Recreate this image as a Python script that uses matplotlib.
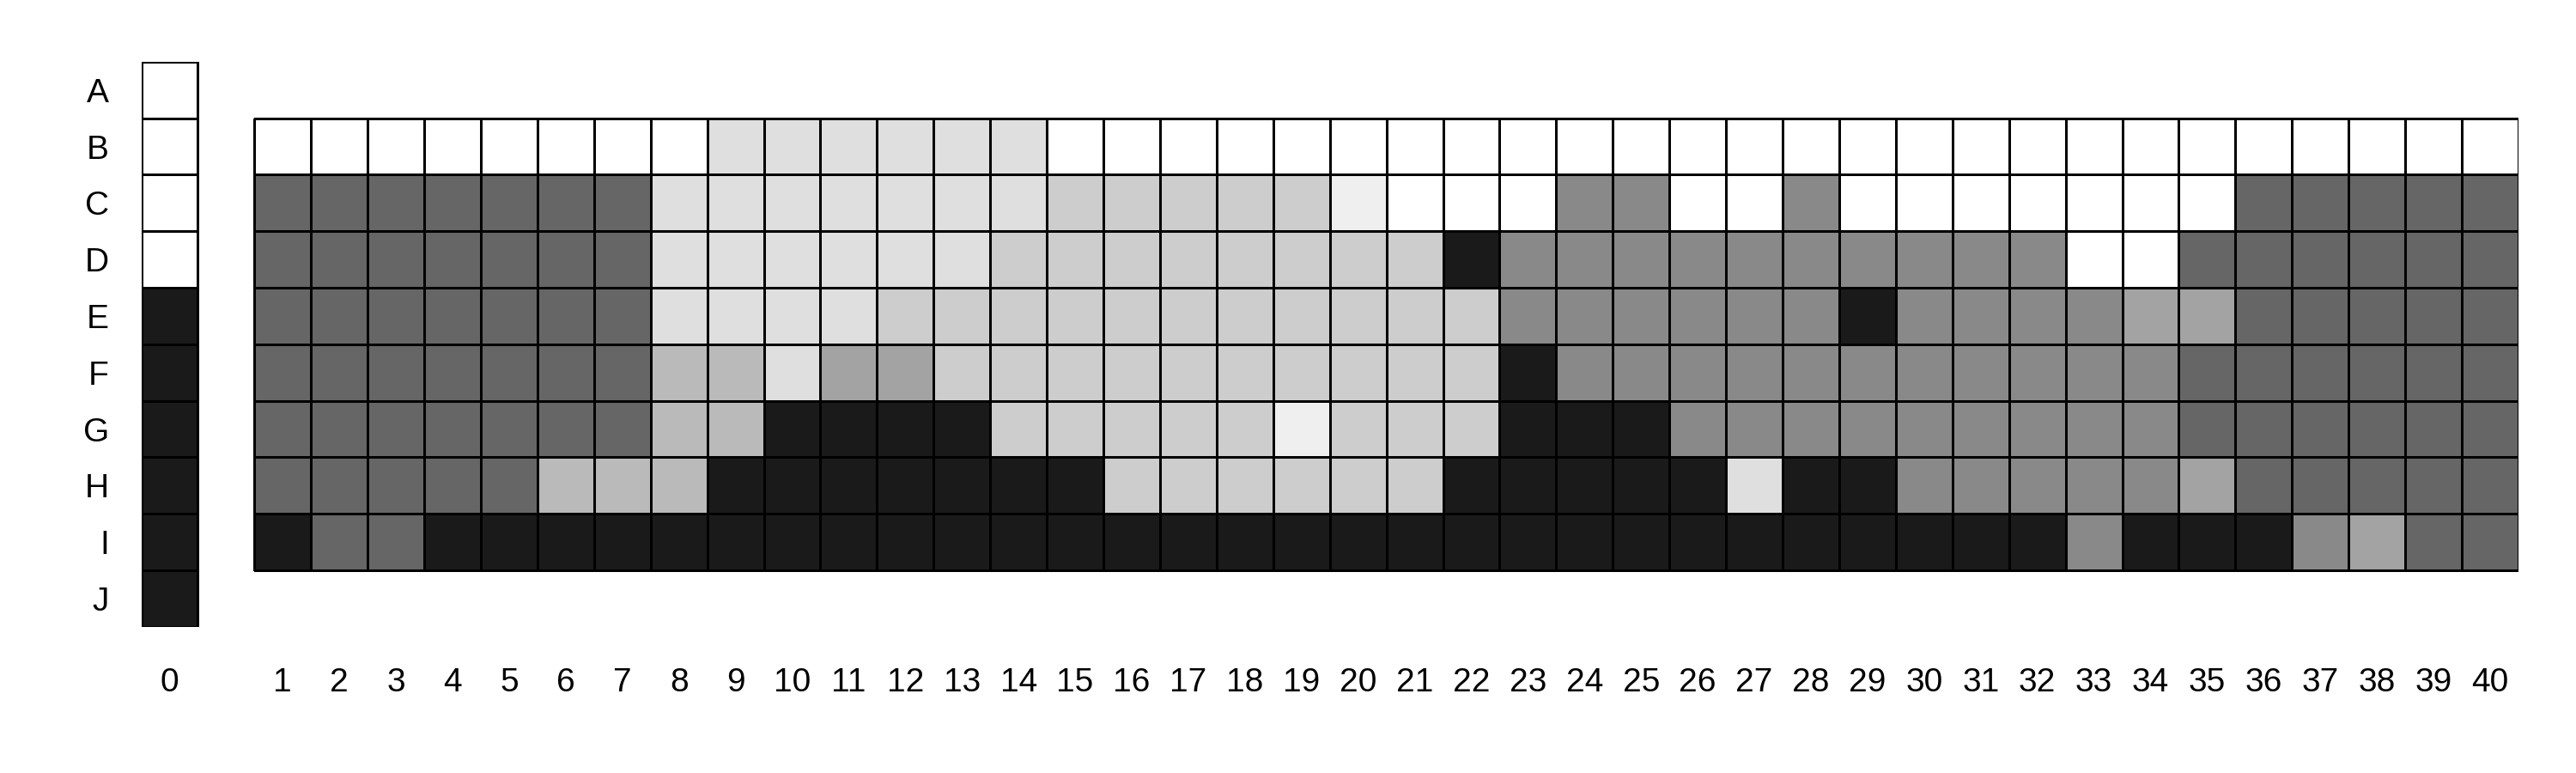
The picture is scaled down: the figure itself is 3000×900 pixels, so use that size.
import numpy as np
import matplotlib
matplotlib.use("Agg")
import matplotlib.pyplot as plt
from matplotlib.colors import ListedColormap, BoundaryNorm

plt.rcParams['font.family'] = ['Liberation Sans', 'DejaVu Sans']

# grey levels used by the cells (code -> colour)
shades = ['#ffffff', '#efefef', '#dfdfdf', '#cdcdcd', '#bababa',
          '#a3a3a3', '#898989', '#666666', '#1a1a1a']

row_labels = ['A', 'B', 'C', 'D', 'E', 'F', 'G', 'H', 'I', 'J']
col_labels = [str(i) for i in range(41)]

# column 0, rows A..J
col0 = [0, 0, 0, 0, 8, 8, 8, 8, 8, 8]

# columns 1..40, rows B..I
row_B = [0, 0, 0, 0, 0, 0, 0, 0, 2, 2, 2, 2, 2, 2, 0, 0, 0, 0, 0, 0,
         0, 0, 0, 0, 0, 0, 0, 0, 0, 0, 0, 0, 0, 0, 0, 0, 0, 0, 0, 0]
row_C = [7, 7, 7, 7, 7, 7, 7, 2, 2, 2, 2, 2, 2, 2, 3, 3, 3, 3, 3, 1,
         0, 0, 0, 6, 6, 0, 0, 6, 0, 0, 0, 0, 0, 0, 0, 7, 7, 7, 7, 7]
row_D = [7, 7, 7, 7, 7, 7, 7, 2, 2, 2, 2, 2, 2, 3, 3, 3, 3, 3, 3, 3,
         3, 8, 6, 6, 6, 6, 6, 6, 6, 6, 6, 6, 0, 0, 7, 7, 7, 7, 7, 7]
row_E = [7, 7, 7, 7, 7, 7, 7, 2, 2, 2, 2, 3, 3, 3, 3, 3, 3, 3, 3, 3,
         3, 3, 6, 6, 6, 6, 6, 6, 8, 6, 6, 6, 6, 5, 5, 7, 7, 7, 7, 7]
row_F = [7, 7, 7, 7, 7, 7, 7, 4, 4, 2, 5, 5, 3, 3, 3, 3, 3, 3, 3, 3,
         3, 3, 8, 6, 6, 6, 6, 6, 6, 6, 6, 6, 6, 6, 7, 7, 7, 7, 7, 7]
row_G = [7, 7, 7, 7, 7, 7, 7, 4, 4, 8, 8, 8, 8, 3, 3, 3, 3, 3, 1, 3,
         3, 3, 8, 8, 8, 6, 6, 6, 6, 6, 6, 6, 6, 6, 7, 7, 7, 7, 7, 7]
row_H = [7, 7, 7, 7, 7, 4, 4, 4, 8, 8, 8, 8, 8, 8, 8, 3, 3, 3, 3, 3,
         3, 8, 8, 8, 8, 8, 2, 8, 8, 6, 6, 6, 6, 6, 5, 7, 7, 7, 7, 7]
row_I = [8, 7, 7, 8, 8, 8, 8, 8, 8, 8, 8, 8, 8, 8, 8, 8, 8, 8, 8, 8,
         8, 8, 8, 8, 8, 8, 8, 8, 8, 8, 8, 8, 6, 8, 8, 8, 6, 5, 7, 7]

main = np.array([row_B, row_C, row_D, row_E, row_F, row_G, row_H, row_I])
first = np.array(col0).reshape(-1, 1)

cmap = ListedColormap(shades)
norm = BoundaryNorm(np.arange(len(shades) + 1) - 0.5, len(shades))

fig = plt.figure(figsize=(30, 9), dpi=100)
# column 0 sits at x in [0,1], columns 1..40 at [k+1, k+2]
ax = fig.add_axes([164.5 / 3000, 170.2 / 900, (2933 - 164.5) / 3000, (729.8 - 71.9) / 900])

ax.pcolormesh([0, 1], np.arange(11), first, cmap=cmap, norm=norm,
              edgecolors='black', linewidth=0.8)
ax.pcolormesh(np.arange(2, 43), np.arange(1, 10), main, cmap=cmap, norm=norm,
              edgecolors='black', linewidth=0.8)

ax.set_xlim(0, 42)
ax.set_ylim(10, 0)

xpos = [0.5] + [k + 1.5 for k in range(1, 41)]
ax.set_xticks(xpos)
ax.set_xticklabels(col_labels, fontsize=28)
ax.set_yticks(np.arange(10) + 0.5)
ax.set_yticklabels(row_labels, fontsize=28)
ax.tick_params(length=0, pad=0)
ax.tick_params(axis='x', pad=34)
ax.tick_params(axis='y', pad=27)

for s in ax.spines.values():
    s.set_visible(False)

fig.savefig("out.png", dpi=100)
